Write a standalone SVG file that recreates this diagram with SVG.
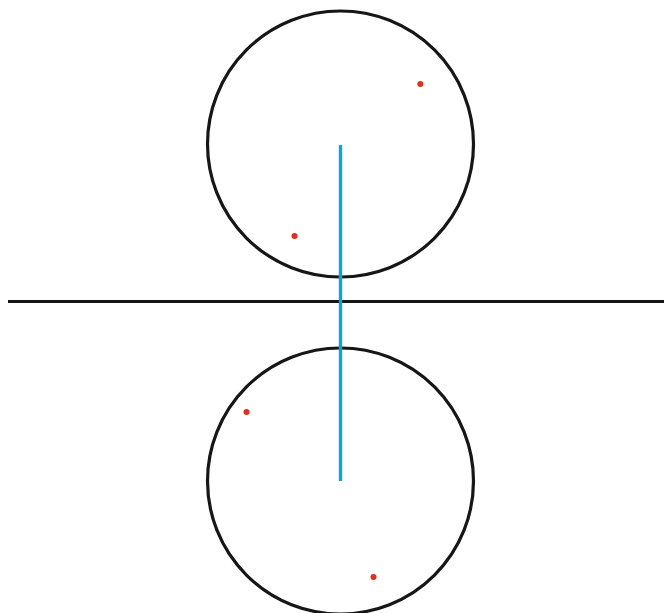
<svg xmlns="http://www.w3.org/2000/svg" width="664" height="613" viewBox="0 0 664 613">
<style>
.c{fill:none;stroke:#161616;stroke-width:3.2}
.d{fill:#e0301e}
</style>
<rect width="664" height="613" fill="#fff"/>
<g id="circle-top"><circle class="c" cx="340.5" cy="144" r="133"/></g>
<g id="circle-bottom"><circle class="c" cx="340.5" cy="481" r="133"/></g>
<g id="connectors">
<line x1="8" y1="301.5" x2="664" y2="301.5" stroke="#161616" stroke-width="3.2"/>
<line x1="340.5" y1="145" x2="340.5" y2="481" stroke="#0ea5d6" stroke-width="3.4"/>
</g>
<g id="dots">
<circle class="d" cx="420.3" cy="84" r="3"/>
<circle class="d" cx="294.5" cy="236" r="3"/>
<circle class="d" cx="246.5" cy="412" r="3"/>
<circle class="d" cx="373.5" cy="577" r="3"/>
</g>
</svg>
